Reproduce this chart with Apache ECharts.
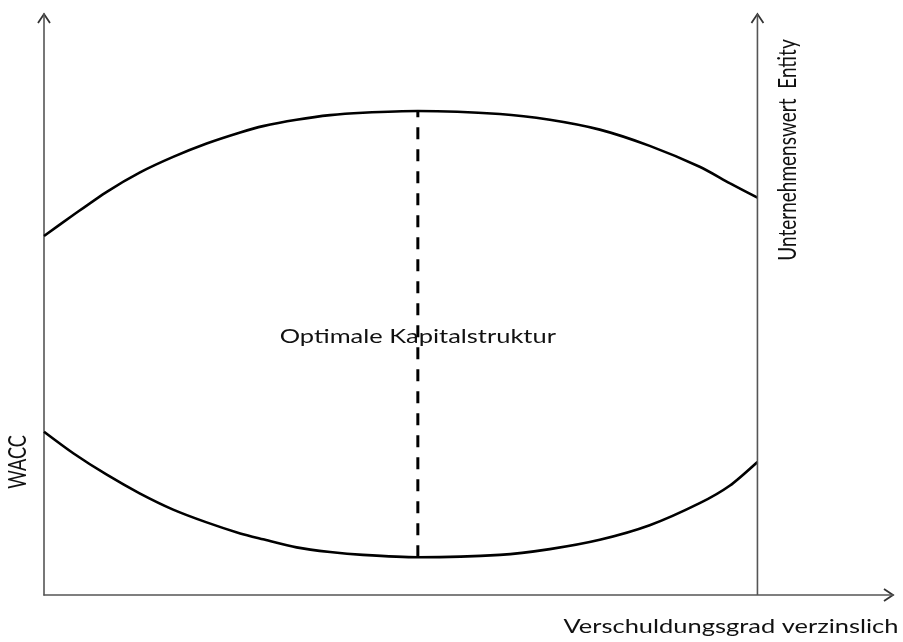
<!DOCTYPE html>
<html>
<head>
<meta charset="utf-8">
<script src="https://cdn.jsdelivr.net/npm/echarts@6/dist/echarts.min.js"></script>
<style>html,body{margin:0;padding:0;background:#fff}#c{width:903px;height:642px}</style>
</head>
<body>
<div id="c"></div>
<script>
// Leverage positions (left axis = 0, right axis = 100)
const leverage = [0, 4.1, 8.8, 13.4, 18.1, 22.8, 27.5, 30.7, 35.4, 40.1, 44.7, 52.4, 63.9, 70.9, 77.9, 84.9, 91.9, 96.1, 100];
// Unternehmenswert (upper curve)
const firmValue = [61.8, 65.4, 69.4, 72.7, 75.4, 77.7, 79.6, 80.7, 81.8, 82.6, 83.0, 83.3, 82.8, 81.8, 80.1, 77.3, 73.7, 70.9, 68.4];
// WACC (lower curve)
const wacc = [28.1, 24.4, 20.7, 17.5, 14.7, 12.5, 10.6, 9.6, 8.2, 7.4, 6.9, 6.5, 6.9, 7.9, 9.5, 12.0, 15.8, 18.8, 22.9];
const optimumX = 52.4;
const labels = {
  optimum: 'Optimale Kapitalstruktur',
  wacc: 'WACC',
  value: 'Unternehmenswert  Entity',
  xName: 'Verschuldungsgrad verzinslich'
};
const xMax = 119, yMax = 100, rightAxisX = 100;

const font = 'Lato, "Open Sans", sans-serif';
const stretch = 1.34;
const chart = echarts.init(document.getElementById('c'), null, {renderer: 'canvas'});
const option = {
  animation: false,
  grid: {left: 44, right: 10, top: 14, bottom: 47},
  xAxis: {type: 'value', min: 0, max: xMax, splitLine: {show: false},
    axisTick: {show: false}, axisLabel: {show: false},
    axisLine: {show: true, lineStyle: {color: '#555', width: 1.6}}},
  yAxis: {type: 'value', min: 0, max: yMax, splitLine: {show: false},
    axisTick: {show: false}, axisLabel: {show: false},
    axisLine: {show: true, lineStyle: {color: '#555', width: 1.6}}},
  series: [
    {type: 'line', smooth: 0.25, symbol: 'none', data: leverage.map((x, i) => [x, firmValue[i]]),
      lineStyle: {color: '#000', width: 2.6}},
    {type: 'line', smooth: 0.25, symbol: 'none', data: leverage.map((x, i) => [x, wacc[i]]),
      lineStyle: {color: '#000', width: 2.6}},
    {type: 'line', symbol: 'none', data: [[optimumX, Math.min(...wacc)], [optimumX, Math.max(...firmValue)]],
      lineStyle: {color: '#000', width: 3, type: [12, 10]}},
    {type: 'line', symbol: 'none', data: [[rightAxisX, 0], [rightAxisX, yMax]],
      lineStyle: {color: '#555', width: 1.6}}
  ]
};
chart.setOption(option);

function px(p) { return chart.convertToPixel({gridIndex: 0}, p); }
const topL = px([0, yMax]), topR = px([rightAxisX, yMax]), endX = px([xMax, 0]);
const mid = px([optimumX, 50]);
const a = 6, b = 9;
chart.setOption({
  graphic: [
    {type: 'polyline', shape: {points: [[topL[0]-a, topL[1]+b], [topL[0], topL[1]], [topL[0]+a, topL[1]+b]]}, style: {stroke: '#333', lineWidth: 1.8, fill: null}},
    {type: 'polyline', shape: {points: [[topR[0]-a, topR[1]+b], [topR[0], topR[1]], [topR[0]+a, topR[1]+b]]}, style: {stroke: '#333', lineWidth: 1.8, fill: null}},
    {type: 'polyline', shape: {points: [[endX[0]-b, endX[1]-a], [endX[0], endX[1]], [endX[0]-b, endX[1]+a]]}, style: {stroke: '#333', lineWidth: 1.8, fill: null}},
    {type: 'text', x: mid[0], y: 337, scaleX: stretch, style: {text: labels.optimum, font: '19px ' + font, fill: '#111', align: 'center', verticalAlign: 'middle', backgroundColor: '#fff'}},
    {type: 'text', x: 18, y: 462, rotation: Math.PI / 2, scaleY: stretch, style: {text: labels.wacc, font: '18px ' + font, fill: '#111', align: 'center', verticalAlign: 'middle'}},
    {type: 'text', x: 788, y: 150, rotation: Math.PI / 2, scaleY: stretch, style: {text: labels.value, font: '19px ' + font, fill: '#111', align: 'center', verticalAlign: 'middle'}},
    {type: 'text', x: 731, y: 627, scaleX: stretch, style: {text: labels.xName, font: '19px ' + font, fill: '#111', align: 'center', verticalAlign: 'middle'}}
  ]
});
</script>
</body>
</html>
